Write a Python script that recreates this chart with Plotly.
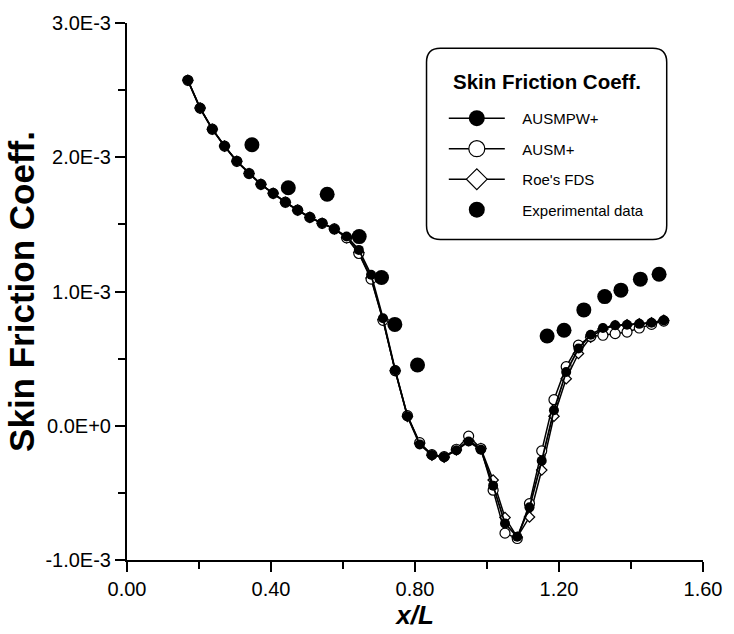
import plotly.graph_objects as go

# ---------------- data ----------------
x_cfd = [0.169, 0.203, 0.237, 0.271, 0.305, 0.339, 0.372, 0.406, 0.440, 0.474,
         0.508, 0.542, 0.576, 0.610, 0.644, 0.678, 0.711, 0.745, 0.779, 0.813,
         0.847, 0.881, 0.915, 0.949, 0.983, 1.017, 1.050, 1.084, 1.118, 1.152,
         1.186, 1.220, 1.254, 1.288, 1.322, 1.356, 1.389, 1.423, 1.457, 1.491]

cf_ausmpw = [2.573e-3, 2.366e-3, 2.209e-3, 2.083e-3, 1.970e-3, 1.879e-3, 1.798e-3, 1.731e-3, 1.665e-3, 1.606e-3,
             1.552e-3, 1.508e-3, 1.466e-3, 1.410e-3, 1.310e-3, 1.125e-3, 0.801e-3, 0.413e-3, 0.071e-3, -0.139e-3,
             -0.218e-3, -0.232e-3, -0.182e-3, -0.117e-3, -0.178e-3, -0.446e-3, -0.728e-3, -0.827e-3, -0.608e-3, -0.261e-3,
             0.115e-3, 0.400e-3, 0.575e-3, 0.678e-3, 0.728e-3, 0.748e-3, 0.752e-3, 0.759e-3, 0.767e-3, 0.785e-3]

cf_ausm = [2.573e-3, 2.366e-3, 2.209e-3, 2.083e-3, 1.970e-3, 1.879e-3, 1.798e-3, 1.731e-3, 1.665e-3, 1.606e-3,
           1.552e-3, 1.508e-3, 1.466e-3, 1.400e-3, 1.283e-3, 1.092e-3, 0.785e-3, 0.410e-3, 0.075e-3, -0.126e-3,
           -0.215e-3, -0.230e-3, -0.175e-3, -0.077e-3, -0.170e-3, -0.480e-3, -0.800e-3, -0.840e-3, -0.580e-3, -0.187e-3,
           0.194e-3, 0.440e-3, 0.600e-3, 0.665e-3, 0.674e-3, 0.686e-3, 0.698e-3, 0.728e-3, 0.755e-3, 0.780e-3]

cf_roe = [2.573e-3, 2.366e-3, 2.209e-3, 2.083e-3, 1.970e-3, 1.879e-3, 1.798e-3, 1.731e-3, 1.665e-3, 1.606e-3,
          1.552e-3, 1.508e-3, 1.466e-3, 1.400e-3, 1.290e-3, 1.100e-3, 0.790e-3, 0.410e-3, 0.070e-3, -0.130e-3,
          -0.220e-3, -0.235e-3, -0.180e-3, -0.110e-3, -0.170e-3, -0.404e-3, -0.684e-3, -0.830e-3, -0.680e-3, -0.330e-3,
          0.071e-3, 0.350e-3, 0.538e-3, 0.660e-3, 0.720e-3, 0.745e-3, 0.752e-3, 0.760e-3, 0.767e-3, 0.785e-3]

x_exp = [0.347, 0.448, 0.556, 0.645, 0.707, 0.744, 0.807,
         1.167, 1.214, 1.269, 1.327, 1.372, 1.426, 1.478]
cf_exp = [2.093e-3, 1.773e-3, 1.724e-3, 1.409e-3, 1.104e-3, 0.755e-3, 0.452e-3,
          0.669e-3, 0.711e-3, 0.863e-3, 0.962e-3, 1.010e-3, 1.092e-3, 1.128e-3]

x_tickvals = [0.0, 0.4, 0.8, 1.2, 1.6]
x_ticktext = ["0.00", "0.40", "0.80", "1.20", "1.60"]
x_minor = [0.2, 0.6, 1.0, 1.4]
y_tickvals = [-1.0e-3, 0.0, 1.0e-3, 2.0e-3, 3.0e-3]
y_ticktext = ["-1.0E-3", "0.0E+0", "1.0E-3", "2.0E-3", "3.0E-3"]
y_minor = [-0.5e-3, 0.5e-3, 1.5e-3, 2.5e-3]

legend_title = "Skin Friction Coeff."
names = ["AUSMPW+", "AUSM+", "Roe's FDS", "Experimental data"]

FONT = "Liberation Sans, Arial, Helvetica, sans-serif"
GAP = "\u00a0\u00a0\u00a0"

fig = go.Figure()

# data traces (drawn bottom to top: Roe, AUSM+, AUSMPW+, experiment)
fig.add_trace(go.Scatter(
    x=x_cfd, y=cf_roe, mode="lines+markers", showlegend=False,
    line=dict(color="black", width=1.5),
    marker=dict(symbol="diamond", size=8, color="white", line=dict(color="black", width=1.2))))
fig.add_trace(go.Scatter(
    x=x_cfd, y=cf_ausm, mode="lines+markers", showlegend=False,
    line=dict(color="black", width=1.5),
    marker=dict(symbol="circle", size=10, color="white", line=dict(color="black", width=1.2))))
fig.add_trace(go.Scatter(
    x=x_cfd, y=cf_ausmpw, mode="lines+markers", showlegend=False,
    line=dict(color="black", width=1.8),
    marker=dict(symbol="circle", size=10, color="black", line=dict(color="black", width=0))))
fig.add_trace(go.Scatter(
    x=x_exp, y=cf_exp, mode="markers", showlegend=False,
    marker=dict(symbol="circle", size=15, color="black", line=dict(width=0))))

# legend entries (larger symbols, as in the reference legend)
fig.add_trace(go.Scatter(
    x=[None], y=[None], mode="lines+markers", name=GAP + names[0], legendgroup="a",
    line=dict(color="black", width=1.5),
    marker=dict(symbol="circle", size=16, color="black", line=dict(width=0))))
fig.add_trace(go.Scatter(
    x=[None], y=[None], mode="lines+markers", name=GAP + names[1], legendgroup="b",
    line=dict(color="black", width=1.5),
    marker=dict(symbol="circle", size=16, color="white", line=dict(color="black", width=1.2))))
fig.add_trace(go.Scatter(
    x=[None], y=[None], mode="lines+markers", name=GAP + names[2], legendgroup="c",
    line=dict(color="black", width=1.5),
    marker=dict(symbol="diamond", size=16, color="white", line=dict(color="black", width=1.2))))
fig.add_trace(go.Scatter(
    x=[None], y=[None], mode="markers", name=GAP + names[3], legendgroup="d",
    marker=dict(symbol="circle", size=16, color="black", line=dict(width=0))))

# rounded legend frame
x0, x1, y0, y1 = 0.520, 0.937, 0.597, 0.953
rx, ry = 0.024, 0.026
path = (f"M{x0+rx},{y1} L{x1-rx},{y1} Q{x1},{y1} {x1},{y1-ry} "
        f"L{x1},{y0+ry} Q{x1},{y0} {x1-rx},{y0} L{x0+rx},{y0} "
        f"Q{x0},{y0} {x0},{y0+ry} L{x0},{y1-ry} Q{x0},{y1} {x0+rx},{y1} Z")
fig.add_shape(type="path", path=path, xref="paper", yref="paper",
              line=dict(color="black", width=1.5), fillcolor="white", layer="below")

fig.add_annotation(text=f"<b>{legend_title}</b>", xref="paper", yref="paper",
                   x=0.729, y=0.891, xanchor="center", yanchor="middle", showarrow=False,
                   font=dict(family=FONT, size=20.5, color="black"))

axis_common = dict(
    showline=True, linecolor="black", linewidth=2, mirror=False,
    showgrid=False, zeroline=False,
    ticks="outside", ticklen=10, tickwidth=1.5, tickcolor="black",
    tickfont=dict(family=FONT, size=20, color="black"),
    tickmode="array",
)

fig.update_xaxes(
    **axis_common, range=[0, 1.6], tickvals=x_tickvals, ticktext=x_ticktext,
    minor=dict(tickmode="array", tickvals=x_minor, ticks="outside", ticklen=7, tickwidth=1.5, tickcolor="black"),
    title=dict(text="<b><i>x/L</i></b>", font=dict(family=FONT, size=26, color="black"), standoff=1),
)
fig.update_yaxes(
    **axis_common, range=[-1.0e-3, 3.0e-3], tickvals=y_tickvals, ticktext=y_ticktext,
    minor=dict(tickmode="array", tickvals=y_minor, ticks="outside", ticklen=7, tickwidth=1.5, tickcolor="black"),
    title=dict(text="<b>Skin Friction Coeff.</b>", font=dict(family=FONT, size=35, color="black"), standoff=0),
)

fig.update_layout(
    width=734, height=634, autosize=False,
    margin=dict(l=127, r=23, t=17, b=74, pad=0),
    paper_bgcolor="white", plot_bgcolor="white",
    font=dict(family=FONT, color="black"),
    legend=dict(
        x=0.55, y=0.853, xanchor="left", yanchor="top",
        bgcolor="rgba(0,0,0,0)", borderwidth=0,
        font=dict(family=FONT, size=15, color="black"),
        itemwidth=56, tracegroupgap=8, traceorder="grouped",
    ),
)

fig.write_html("out.html")
